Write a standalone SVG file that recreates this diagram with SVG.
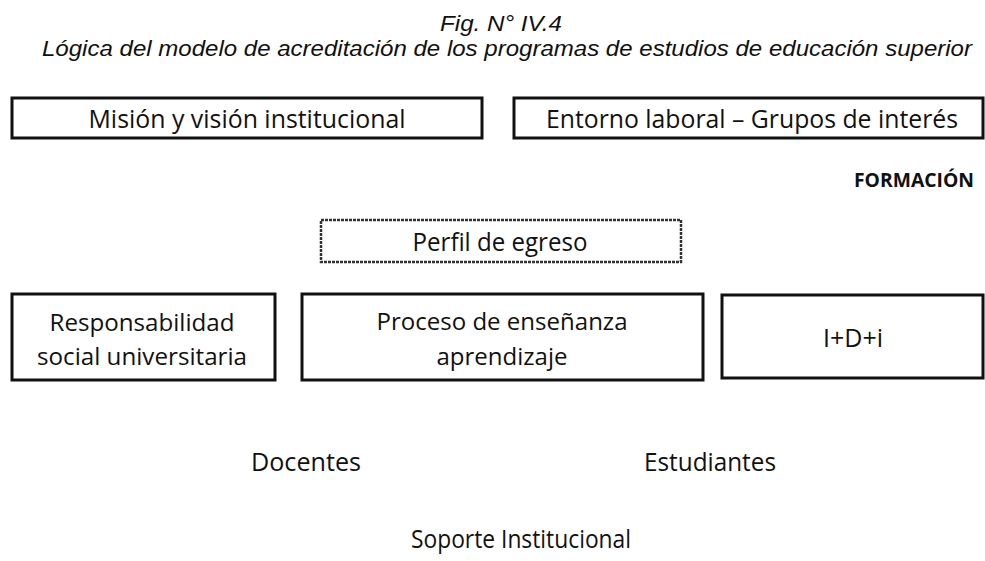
<svg xmlns="http://www.w3.org/2000/svg" width="985" height="561" viewBox="0 0 985 561">
<style>
.t{font-family:"Liberation Sans",Arial,sans-serif;font-style:italic;font-size:22px;fill:#111;text-anchor:middle}
.l{font-family:"Open Sans","Noto Sans",sans-serif;font-size:26px;fill:#111;text-anchor:middle}
.m{font-family:"Open Sans","Noto Sans",sans-serif;font-size:24px;fill:#111;text-anchor:middle}
.b{fill:#fff;stroke:#111;stroke-width:3}
.d{fill:#fff;stroke:#333;stroke-width:2.5;stroke-dasharray:3 1}
</style>
<rect width="985" height="561" fill="#fff"/>
<g id="title">
<text class="t" x="501" y="31" textLength="122" lengthAdjust="spacingAndGlyphs">Fig. N° IV.4</text>
<text class="t" x="507" y="56" textLength="930" lengthAdjust="spacingAndGlyphs">Lógica del modelo de acreditación de los programas de estudios de educación superior</text>
</g>
<g id="mision">
<rect class="b" x="12" y="98" width="470" height="40"/>
<text class="l" x="247" y="128" textLength="317" lengthAdjust="spacingAndGlyphs">Misión y visión institucional</text>
</g>
<g id="entorno">
<rect class="b" x="514" y="98" width="469" height="40"/>
<text class="l" x="752" y="128" textLength="412" lengthAdjust="spacingAndGlyphs">Entorno laboral – Grupos de interés</text>
</g>
<g id="formacion">
<text x="914" y="187" font-family="'Open Sans','Noto Sans',sans-serif" font-weight="bold" font-size="20" fill="#111" text-anchor="middle" textLength="120" lengthAdjust="spacingAndGlyphs">FORMACIÓN</text>
</g>
<g id="perfil">
<rect class="d" x="321" y="220" width="360" height="42"/>
<text class="l" x="500" y="251" textLength="175" lengthAdjust="spacingAndGlyphs">Perfil de egreso</text>
</g>
<g id="rsu">
<rect class="b" x="12" y="294" width="263" height="86"/>
<text class="m" x="142" y="331" textLength="185" lengthAdjust="spacingAndGlyphs">Responsabilidad</text>
<text class="m" x="142" y="365" textLength="210" lengthAdjust="spacingAndGlyphs">social universitaria</text>
</g>
<g id="proceso">
<rect class="b" x="302" y="294" width="401" height="86"/>
<text class="m" x="502" y="330" textLength="251" lengthAdjust="spacingAndGlyphs">Proceso de enseñanza</text>
<text class="m" x="502" y="365" textLength="131" lengthAdjust="spacingAndGlyphs">aprendizaje</text>
</g>
<g id="idi">
<rect class="b" x="722" y="295" width="261" height="83"/>
<text class="l" x="853" y="347" textLength="60" lengthAdjust="spacingAndGlyphs">I+D+i</text>
</g>
<g id="docentes">
<text class="l" x="306" y="471" textLength="110" lengthAdjust="spacingAndGlyphs">Docentes</text>
</g>
<g id="estudiantes">
<text class="l" x="710" y="471" textLength="132" lengthAdjust="spacingAndGlyphs">Estudiantes</text>
</g>
<g id="soporte">
<text class="l" x="521" y="548" textLength="220" lengthAdjust="spacingAndGlyphs">Soporte Institucional</text>
</g>
<g id="connectors"></g>
</svg>
